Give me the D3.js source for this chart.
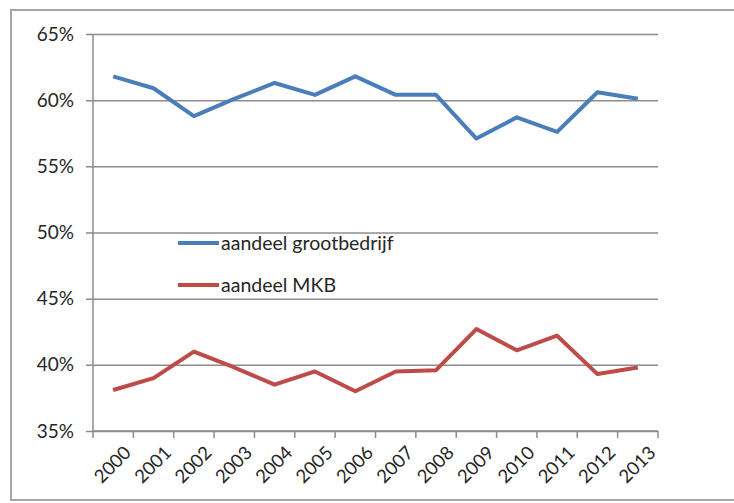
<!DOCTYPE html>
<html>
<head>
<meta charset="utf-8">
<script src="https://cdn.jsdelivr.net/npm/d3@7"></script>
<style>
    body { margin: 0; background: #fff; }
    svg text { font-family: Lato, "Open Sans", sans-serif; fill: #262626; }
</style>
</head>
<body>
<div id="chart"></div>
<script>
// data
var years = ["2000", "2001", "2002", "2003", "2004", "2005", "2006",
             "2007", "2008", "2009", "2010", "2011", "2012", "2013"];
var grootbedrijf = [61.8, 60.9, 58.8, 60.1, 61.3, 60.4, 61.8, 60.4, 60.4, 57.1, 58.7, 57.6, 60.6, 60.1];
var mkb = [38.1, 39.0, 41.0, 39.8, 38.5, 39.5, 38.0, 39.5, 39.6, 42.7, 41.1, 42.2, 39.3, 39.8];
var yTicks = [35, 40, 45, 50, 55, 60, 65];
var seriesNames = ["aandeel grootbedrijf", "aandeel MKB"];
var seriesColors = ["#4a7ebb", "#be4b48"];

var width = 734, height = 503;
var margin = {top: 34, right: 76, bottom: 72, left: 93};

var svg = d3.select("#chart").append("svg")
    .attr("width", width)
    .attr("height", height);

// chart frame
svg.append("rect")
    .attr("x", 11).attr("y", 10)
    .attr("width", 740).attr("height", 490)
    .attr("fill", "none")
    .attr("stroke", "#a6a6a6")
    .attr("stroke-width", 2);

var x = d3.scaleBand()
    .domain(years)
    .range([margin.left, width - margin.right]);

var y = d3.scaleLinear()
    .domain([35, 65])
    .range([height - margin.bottom, margin.top]);

// gridlines + y axis
var yAxis = d3.axisLeft(y)
    .tickValues(yTicks)
    .tickSize(-(width - margin.right - margin.left))
    .tickPadding(19)
    .tickFormat(function (d) { return d + "%"; });

var gy = svg.append("g")
    .attr("transform", "translate(" + margin.left + ",0)")
    .call(yAxis);
gy.select(".domain").remove();
gy.selectAll(".tick line")
    .attr("x1", -7)
    .attr("stroke", "#8c8c8c")
    .attr("stroke-width", 1.5);
gy.selectAll(".tick text")
    .style("font-size", "19px");

svg.append("line")
    .attr("x1", margin.left).attr("x2", margin.left)
    .attr("y1", margin.top).attr("y2", height - margin.bottom)
    .attr("stroke", "#8c8c8c")
    .attr("stroke-width", 1.5);

// x axis, ticks between categories
var gx = svg.append("g")
    .attr("transform", "translate(0," + (height - margin.bottom) + ")");
gx.append("line")
    .attr("x1", margin.left).attr("x2", width - margin.right)
    .attr("stroke", "#8c8c8c")
    .attr("stroke-width", 1.5);
gx.selectAll("line.tk")
    .data(years.concat(["end"]))
    .enter()
    .append("line")
    .attr("class", "tk")
    .attr("x1", function (d, i) { return margin.left + i * x.step(); })
    .attr("x2", function (d, i) { return margin.left + i * x.step(); })
    .attr("y1", 0).attr("y2", 7)
    .attr("stroke", "#8c8c8c")
    .attr("stroke-width", 1.5);
gx.selectAll("text")
    .data(years)
    .enter()
    .append("text")
    .attr("transform", function (d) {
        return "translate(" + (x(d) + x.bandwidth() / 2 + 19) + ",23) rotate(-45)";
    })
    .attr("text-anchor", "end")
    .style("font-size", "18.5px")
    .text(function (d) { return d; });

// lines
var line = d3.line()
    .x(function (d, i) { return x(years[i]) + x.bandwidth() / 2; })
    .y(function (d) { return y(d); });

[grootbedrijf, mkb].forEach(function (s, i) {
    svg.append("path")
        .datum(s)
        .attr("fill", "none")
        .attr("stroke", seriesColors[i])
        .attr("stroke-width", 4)
        .attr("stroke-linejoin", "round")
        .attr("d", line);
});

// legend
var legend = svg.selectAll("g.legend")
    .data(seriesNames)
    .enter()
    .append("g")
    .attr("class", "legend")
    .attr("transform", function (d, i) { return "translate(178," + (243 + i * 42) + ")"; });
legend.append("line")
    .attr("x1", 0).attr("x2", 41)
    .attr("stroke", function (d, i) { return seriesColors[i]; })
    .attr("stroke-width", 4);
legend.append("text")
    .attr("x", 43)
    .attr("dy", "0.35em")
    .style("font-size", "19.5px")
    .text(function (d) { return d; });
</script>
</body>
</html>
